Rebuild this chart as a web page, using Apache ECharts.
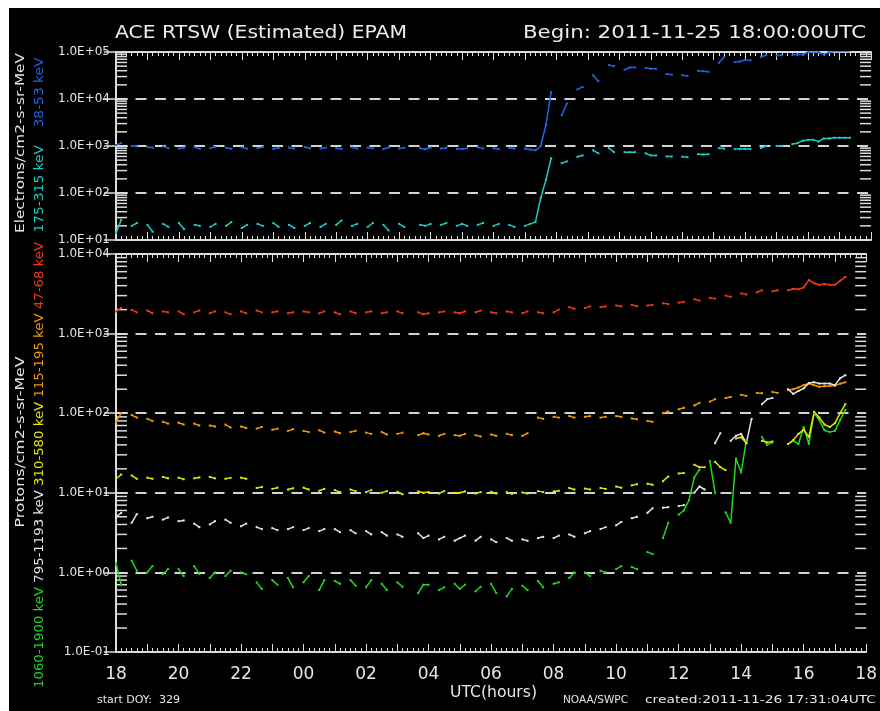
<!DOCTYPE html>
<html>
<head>
<meta charset="utf-8">
<title>ACE RTSW (Estimated) EPAM</title>
<script src="https://cdn.jsdelivr.net/npm/echarts@6/dist/echarts.min.js"></script>
<style>
  html, body { margin: 0; padding: 0; background: #ffffff; }
  #chart { position: absolute; left: 9px; top: 8px; width: 871px; height: 703px; background: #000000; }
</style>
</head>
<body>
<div id="chart"></div>
<script>
// Time grid: 10-minute samples starting 2011-11-25 18:00 UTC (hours since start).
const STEP_HOURS = 1 / 6;
const hourLabels = ['18','19','20','21','22','23','00','01','02','03','04','05','06','07','08','09','10','11','12','13','14','15','16','17','18'];

// Electrons 38-53 keV
const elec38 = [
  1050, 1150, null, 1000, 980, null,
  950, 920, null, 980, 900, null,
  880, 930, null, 950, 870, null,
  900, 960, null, 920, 870, null,
  940, 880, null, 900, 950, null,
  870, 910, null, 930, 880, null,
  950, 900, null, 880, 920, null,
  900, 860, null, 940, 880, null,
  920, 890, null, 860, 930, null,
  880, 920, null, null, 900, 850,
  930, null, 880, 910, null, 870,
  860, 900, null, 940, 890, null,
  900, 860, null, 920, 880, null,
  880, 840, 810, 1000, 2800, 14000,
  null, 4500, 8000, null, 16000, 18000,
  null, 32000, 24000, null, 53000, 50000,
  null, 42000, 47000, 47000, null, 46000,
  44000, 44000, null, 34000, 33000, null,
  32000, 31000, null, 40000, 39000, 38000,
  null, 59000, 78000, null, 61000, 63000,
  68000, 66000, null, 78000, 86000, null,
  84000, 86000, null, 87000, 88000, 88000,
  100000, 101000, 99000, 88000, 99000, 102000,
  103000, 104000, 103000
];

// Electrons 175-315 keV
const elec175 = [
  14, 27, null, 20, 23, null,
  21, 15, null, 22, 19, null,
  23, 17, null, 21, 20, null,
  19, 22, null, 20, 24, null,
  18, 21, null, 22, 20, null,
  23, 19, null, 21, 18, null,
  20, 23, null, 19, 22, null,
  21, 26, null, 20, 22, null,
  19, 23, null, 21, 16, null,
  22, 19, null, null, 21, 20,
  22, null, 21, 23, null, 20,
  22, 20, null, 21, 23, null,
  20, 22, null, 21, 19, null,
  20, 22, 24, 78, 190, 550,
  null, 430, 470, null, 590, 630,
  null, 810, 700, null, 900, 740,
  null, 740, 740, 740, null, 700,
  630, 630, null, 600, 600, null,
  590, 580, null, 670, 660, 670,
  null, 900, 880, null, 860, 860,
  870, 860, null, 900, 1000, null,
  1000, 1000, null, 1100, 1150, 1300,
  1350, 1350, 1250, 1450, 1450, 1500,
  1500, 1500, 1500
];

// Protons 47-68 keV
const prot47 = [
  1900, 2100, null, 2000, 1850, null,
  1950, 1800, null, 1900, 1850, null,
  1900, 1750, null, 1850, 1950, null,
  1800, 1900, null, 1850, 1750, null,
  1900, 1800, null, 1950, 1850, null,
  1850, 1900, null, 1800, 1850, null,
  1900, 1850, null, 1800, 1900, null,
  1850, 1750, null, 1900, 1800, null,
  1850, 1900, null, 1800, 1850, null,
  1900, 1800, null, null, 1850, 1750,
  1800, null, 1850, 1900, null, 1850,
  1800, 1900, null, 1850, 1950, null,
  1850, 1800, null, 1900, 1850, null,
  1800, 1900, null, 1850, 1800, null,
  1850, 2000, null, 2150, 2050, null,
  2100, 2200, null, 2150, 2200, null,
  2250, 2200, null, 2300, 2200, null,
  2250, 2300, null, 2400, 2350, null,
  2450, 2500, null, 2700, 2600, null,
  2800, 2750, null, 3000, 2900, null,
  3200, 3100, null, 3300, 3500, null,
  3400, 3500, null, 3500, 3650, 3600,
  3800, 4700, 4300, 4100, 4200, 4100,
  4100, 4600, 5150
];

// Protons 115-195 keV
const prot115 = [
  78, 100, null, 95, 88, null,
  85, 80, null, 78, 74, null,
  76, 72, null, 74, 70, null,
  70, 68, null, 72, 66, null,
  68, 65, null, 64, 67, null,
  62, 64, null, 60, 63, null,
  60, 58, null, 61, 57, null,
  59, 56, null, 58, 60, null,
  57, 55, null, 58, 54, null,
  55, 57, null, null, 53, 56,
  54, null, 52, 55, null, 53,
  52, 55, null, 53, 51, null,
  54, 52, null, 55, 53, null,
  52, 56, null, 88, 85, null,
  90, 88, null, 92, 88, null,
  90, 92, null, 88, 90, null,
  92, 90, null, 86, 84, null,
  80, 78, null, 100, 105, null,
  112, 117, null, 125, 135, null,
  140, 150, null, 155, 160, null,
  170, 165, null, 180, 178, null,
  185, 180, null, 195, 200, 210,
  225, 236, 225, 215, 218, 220,
  222, 235, 245
];

// Protons 310-580 keV
const prot310 = [
  15, 17, null, 16.5, 15, null,
  15.5, 15, null, 15.8, 15.2, null,
  15.5, 14.8, null, 15.2, 15.6, null,
  15.8, 15.2, null, 15, 15.4, null,
  15.5, 15, null, 11.5, 11.8, null,
  11.2, 11.6, null, 11, 11.4, null,
  11.6, 11, null, 10.6, 11.2, null,
  10.8, 10.2, null, 11, 10.5, null,
  10.2, 10.8, null, 10, 10.5, null,
  10.3, 9.6, null, null, 10.4, 10,
  10.2, null, 9.8, 10.5, null, 10,
  10, 10.4, null, 9.8, 10.2, null,
  10.3, 9.8, null, 10.2, 9.7, null,
  10.1, 9.8, null, 10.5, 10.2, null,
  10.4, 10.6, null, 11.5, 11, null,
  11.3, 11, null, 11.5, 11.2, null,
  12, 11.6, null, 12.4, 12.8, null,
  13, 12.6, null, 14, 16, null,
  17.5, 17.7, null, 22.5, 21, 21,
  null, 24.5, 21, 19.3, null, 48,
  50, 42, null, null, 45, 43,
  44, null, null, 41, 46, 55,
  62, 50, 104, 88, 72, 67,
  75, 100, 130
];

// Protons 795-1193 keV
const prot795 = [
  5.0, 5.6, null, 4.2, 5.4, null,
  4.8, 5.0, null, 4.6, 4.9, null,
  4.4, 4.5, null, 4.1, 3.7, null,
  4.0, 4.4, null, 4.6, 4.2, null,
  3.8, 4.1, null, 3.7, 3.5, null,
  3.6, 3.4, null, 3.5, 3.7, null,
  3.4, 3.6, null, 3.3, 3.5, null,
  3.5, 3.2, null, 3.4, 3.1, null,
  3.3, 3.0, null, 3.2, 2.9, null,
  3.0, 2.8, null, null, 3.1, 2.7,
  2.9, null, 2.6, 2.8, null, 2.5,
  2.7, 2.9, null, 2.5, 2.8, null,
  2.6, 2.4, null, 2.7, 2.5, null,
  2.6, 2.5, null, 2.7, 2.8, null,
  2.7, 2.9, null, 3.0, 2.8, null,
  3.1, 3.3, null, 3.5, 3.7, null,
  3.9, 4.3, null, 4.8, 5.0, null,
  5.6, 6.4, null, 6.5, 6.6, null,
  6.8, 7.0, null, 10, 12, 11,
  null, 42, 56, null, 45, 52,
  55, 42, 85, null, 130, 150,
  155, null, null, 200, 175, 190,
  205, 240, 245, 236, 236, 236,
  225, 275, 300
];

// Protons 1060-1900 keV
const prot1060 = [
  1.3, 0.7, null, 1.4, 1.05, null,
  1.0, 1.2, null, 0.95, 1.1, null,
  1.1, 0.9, null, 1.2, 0.95, null,
  0.85, 1.0, null, 0.9, 1.05, null,
  1.0, 0.95, null, 0.75, 0.62, null,
  0.8, 0.7, null, 0.85, 0.65, null,
  0.75, 0.9, null, 0.6, 0.8, null,
  0.78, 0.72, null, 0.8, 0.68, null,
  0.65, 0.8, null, 0.72, 0.6, null,
  0.75, 0.66, null, null, 0.55, 0.7,
  0.7, null, 0.6, 0.65, null, 0.72,
  0.62, 0.7, null, 0.58, 0.66, null,
  0.72, 0.55, null, 0.5, 0.62, null,
  0.68, 0.6, null, 0.78, 0.65, null,
  0.72, 0.75, null, 0.85, 1.0, null,
  1.0, 0.9, null, 1.05, 1.0, null,
  1.1, 1.2, null, 1.17, 1.1, null,
  1.8, 1.7, null, 2.7, 4.2, null,
  5.3, 6.0, 8.1, 15.6, 19.6, null,
  25, 10, null, 5.7, 4.2, 27,
  18, 46, null, null, 50, 40,
  43, null, null, 41, 45, 41,
  67, 41, 100, 82, 61, 58,
  60, 82, 110
];

// Decade ranges of the two panels
const elecRange = [1e1, 1e5];
const protRange = [1e-1, 1e4];

const COLORS = {
  e38: '#2463e6', e175: '#1ccccc',
  p47: '#f03a12', p115: '#f29a00', p310: '#e6e600', p795: '#e4e4e4', p1060: '#1fd91f'
};
const AXIS = '#dcdcdc';
const FONT = 'DejaVu Sans';

function toPairs(vals) {
  return vals.map((v, i) => [i * STEP_HOURS, v === null ? '-' : v]);
}

function sciLabel(v) {
  const e = Math.round(Math.log10(v));
  return '1.0E' + (e < 0 ? '-' : '+') + String(Math.abs(e)).padStart(2, '0');
}

// log-scale minor tick values (2..9 x 10^k) inside a range
function minorTicks(range) {
  const out = [];
  const k0 = Math.round(Math.log10(range[0]));
  const k1 = Math.round(Math.log10(range[1]));
  for (let k = k0; k < k1; k++) {
    for (let m = 2; m <= 9; m++) out.push([0, m * Math.pow(10, k)]);
  }
  return out;
}

function xAxisDef(grid, pos, labels) {
  return {
    type: 'value', gridIndex: grid, position: pos, min: 0, max: 24, interval: 1,
    axisLine: { show: true, lineStyle: { color: AXIS, width: 2 } },
    axisTick: { show: true, inside: true, length: 8, lineStyle: { color: AXIS, width: 1 } },
    minorTick: { show: true, splitNumber: 6, length: 4, lineStyle: { color: AXIS, width: 1 } },
    splitLine: { show: false },
    axisLabel: {
      show: labels, margin: 14, color: '#e6e6e6', fontFamily: FONT, fontSize: 17,
      formatter: v => (Math.round(v) % 2 === 0 ? hourLabels[Math.round(v)] : '')
    }
  };
}

function yAxisDef(grid, pos, range, labels) {
  return {
    type: 'log', logBase: 10, gridIndex: grid, position: pos, min: range[0], max: range[1],
    axisLine: { show: true, lineStyle: { color: AXIS, width: 2 } },
    axisTick: { show: true, inside: true, length: 12, lineStyle: { color: AXIS, width: 1.5 } },
    splitLine: labels ? { show: true, lineStyle: { color: '#d2d2d2', width: 2, type: [11, 8.5] } } : { show: false },
    axisLabel: {
      show: labels, margin: 6, color: '#e6e6e6', fontFamily: FONT, fontSize: 12,
      formatter: sciLabel
    }
  };
}

function lineSeries(name, vals, color, xi, yi) {
  return {
    name, type: 'line', xAxisIndex: xi, yAxisIndex: yi, data: toPairs(vals),
    showSymbol: true, showAllSymbol: true, symbol: 'rect', symbolSize: 2,
    itemStyle: { color }, lineStyle: { color, width: 1.5 },
    connectNulls: false, animation: false, silent: true, clip: true
  };
}

// inward minor ticks on both vertical edges of a panel
function minorTickSeries(range, xi, yi) {
  return {
    type: 'custom', xAxisIndex: xi, yAxisIndex: yi, data: minorTicks(range),
    silent: true, animation: false, clip: false, z: 3,
    renderItem: (params, api) => {
      const v = api.value(1);
      const pl = api.coord([0, v]);
      const pr = api.coord([24, v]);
      const st = { stroke: AXIS, lineWidth: 1.5 };
      return {
        type: 'group', children: [
          { type: 'line', shape: { x1: pl[0], y1: pl[1], x2: pl[0] + 11, y2: pl[1] }, style: st },
          { type: 'line', shape: { x1: pr[0] - 11, y1: pr[1], x2: pr[0], y2: pr[1] }, style: st }
        ]
      };
    }
  };
}

// text helpers: stretch a string horizontally to a given drawn length
const measureCtx = document.createElement('canvas').getContext('2d');
function textWidth(str, size) {
  measureCtx.font = size + 'px "' + FONT + '"';
  return measureCtx.measureText(str).width;
}
function flatText(str, left, cy, len, size, color) {
  return {
    type: 'text', x: left, y: cy, scaleX: len / textWidth(str, size), silent: true,
    style: { text: str, fill: color, font: size + 'px "' + FONT + '"', align: 'left', verticalAlign: 'middle' }
  };
}
function verticalRich(parts, cx, cy, len, size) {
  const plain = parts.map(p => p[0]).join('');
  const rich = {};
  let text = '';
  parts.forEach((p, i) => {
    rich['s' + i] = { fill: p[1], font: size + 'px "' + FONT + '"' };
    text += '{s' + i + '|' + p[0] + '}';
  });
  return {
    type: 'text', x: cx, y: cy, rotation: Math.PI / 2, scaleX: len / textWidth(plain, size), silent: true,
    style: { text, rich, font: size + 'px "' + FONT + '"', align: 'center', verticalAlign: 'middle' }
  };
}

const chart = echarts.init(document.getElementById('chart'), null, { renderer: 'canvas' });

chart.setOption({
  backgroundColor: '#000000',
  animation: false,
  grid: [
    { left: 107, top: 44, width: 755, height: 188, containLabel: false },
    { left: 107, top: 246, width: 755, height: 398, containLabel: false }
  ],
  xAxis: [
    xAxisDef(0, 'bottom', false),
    xAxisDef(0, 'top', false),
    xAxisDef(1, 'bottom', true),
    xAxisDef(1, 'top', false)
  ],
  yAxis: [
    yAxisDef(0, 'left', elecRange, true),
    yAxisDef(0, 'right', elecRange, false),
    yAxisDef(1, 'left', protRange, true),
    yAxisDef(1, 'right', protRange, false)
  ],
  series: [
    minorTickSeries(elecRange, 0, 0),
    minorTickSeries(protRange, 2, 2),
    lineSeries('38-53 keV', elec38, COLORS.e38, 0, 0),
    lineSeries('175-315 keV', elec175, COLORS.e175, 0, 0),
    lineSeries('47-68 keV', prot47, COLORS.p47, 2, 2),
    lineSeries('115-195 keV', prot115, COLORS.p115, 2, 2),
    lineSeries('795-1193 keV', prot795, COLORS.p795, 2, 2),
    lineSeries('1060-1900 keV', prot1060, COLORS.p1060, 2, 2),
    lineSeries('310-580 keV', prot310, COLORS.p310, 2, 2)
  ],
  graphic: [
    flatText('ACE RTSW (Estimated) EPAM', 106, 26, 292, 17, '#ececec'),
    flatText('Begin: 2011-11-25 18:00:00UTC', 514, 26, 343, 17, '#ececec'),
    verticalRich([['Electrons/cm2-s-sr-MeV', '#e6e6e6']], 12, 135, 180, 12),
    verticalRich([['175-315 keV', COLORS.e175], ['    ', '#000'], ['38-53 keV', COLORS.e38]], 31, 137, 175, 12),
    verticalRich([['Protons/cm2-s-sr-MeV', '#e6e6e6']], 12, 434, 171, 12),
    verticalRich([
      ['1060-1900 keV ', COLORS.p1060],
      ['795-1193 keV ', COLORS.p795],
      ['310-580 keV ', COLORS.p310],
      ['115-195 keV ', COLORS.p115],
      ['47-68 keV', COLORS.p47]
    ], 31, 457, 446, 12),
    flatText('UTC(hours)', 441, 685, 87, 16, '#e6e6e6'),
    flatText('start DOY:  329', 88, 692, 83, 11, '#e6e6e6'),
    flatText('NOAA/SWPC', 554, 692, 65, 11, '#e6e6e6'),
    flatText('created:2011-11-26 17:31:04UTC', 636, 692, 231, 11, '#e6e6e6')
  ]
});
</script>
</body>
</html>
